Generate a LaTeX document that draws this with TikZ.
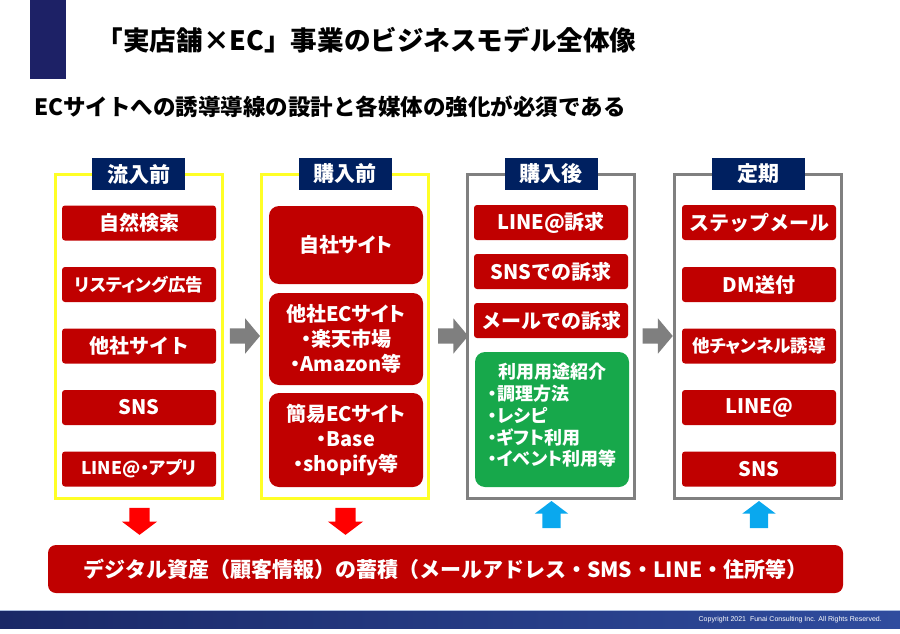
\documentclass[tikz,border=0pt]{standalone}
\usepackage{fontspec}
\setmainfont{Noto Sans CJK JP}
\newfontfamily\jpprop{Noto Sans CJK JP}[RawFeature=+palt]
\newfontfamily\copyfont{Liberation Sans}
\usepackage{tikz}
\usetikzlibrary{positioning,calc,shapes.arrows}
\definecolor{colBoxRed}{HTML}{C00000}
\definecolor{colHeaderNavy}{HTML}{002060}
\definecolor{colTopBar}{HTML}{1D2166}
\definecolor{colFrameYellow}{HTML}{FFFF26}
\definecolor{colFrameGray}{HTML}{808080}
\definecolor{colArrowGray}{HTML}{7F7F7F}
\definecolor{colArrowRed}{HTML}{FF0000}
\definecolor{colArrowBlue}{HTML}{0AA8EE}
\definecolor{colUseGreen}{HTML}{17A84B}
\definecolor{colFootDark}{HTML}{1A2866}
\definecolor{colFootLight}{HTML}{2F4C9E}
\definecolor{colFootLine}{HTML}{A9BCDF}

\begin{document}
\begin{tikzpicture}[x=1pt, y=-1pt,
        box/.style={rounded corners=3pt, align=center, text=white, inner sep=0pt, font=\bfseries\fontsize{20}{25}\selectfont},
        item/.style={box, fill=colBoxRed, minimum width=154pt, minimum height=35pt},
        small/.style={font=\jpprop\bfseries\fontsize{17.5}{17.5}\selectfont},
        tall/.style={item, rounded corners=10pt, font=\jpprop\bfseries\fontsize{20}{25}\selectfont},
        stage/.style={fill=colHeaderNavy, text=white, minimum width=93pt, minimum height=32pt, inner sep=0pt, font=\bfseries\fontsize{21}{21}\selectfont},
        frameY/.style={draw=colFrameYellow, line width=3pt, minimum width=167pt, minimum height=324pt, inner sep=0pt, outer sep=0pt},
        frameG/.style={frameY, draw=colFrameGray},
        nextarr/.style={single arrow, fill=colArrowGray, minimum height=30pt, inner xsep=0pt, inner ysep=7.5pt, single arrow head extend=10pt, single arrow tip angle=100},
        downarr/.style={single arrow, rotate=-90, fill=colArrowRed, minimum height=27pt, inner xsep=0pt, inner ysep=10pt, single arrow head extend=7.5pt, single arrow tip angle=106},
        uparr/.style={downarr, rotate=180, fill=colArrowBlue, inner ysep=9pt}
    ]
    \useasboundingbox (0,0) rectangle (900,634);

    % タイトル
    \fill[colTopBar] (30,0) rectangle (66,79);
    \node[anchor=west, inner sep=0pt, font=\bfseries\fontsize{26.6}{26.6}\selectfont] (title) at (96.5,40) {「実店舗×EC」事業のビジネスモデル全体像};
    \node[anchor=west, inner sep=0pt, font=\bfseries\fontsize{22.5}{22.5}\selectfont] (lead) at (34,107) {ECサイトへの誘導導線の設計と各媒体の強化が必須である};

    % 枠
    \node[frameY] (f1) at (138.5,336) {};
    \node[frameY] (f2) at (345,336) {};
    \node[frameG] (f3) at (551,336) {};
    \node[frameG] (f4) at (758,336) {};

    % 見出し
    \node[stage] (h1) at (f1.north) {流入前};
    \node[stage] (h2) at (f2.north) {購入前};
    \node[stage] (h3) at (f3.north) {購入後};
    \node[stage] (h4) at (f4.north) {定期};

    % 流入前
    \node[item] (a1) at (139,223) {自然検索};
    \node[item, small] (a2) at (139,284.5) {リスティング広告};
    \node[item] (a3) at (139,346) {他社サイト};
    \node[item] (a4) at (139,407.5) {SNS};
    \node[item, small] (a5) at (139,469) {LINE@・アプリ};

    % 購入前
    \node[tall, minimum height=78pt] (b1) at (346,245) {自社サイト};
    \node[tall, minimum height=92pt] (b2) at (346,339) {他社ECサイト\\・楽天市場\\・Amazon等};
    \node[tall, minimum height=94pt] (b3) at (346,440) {簡易ECサイト\\・Base\\・shopify等};

    % 購入後
    \node[item] (c1) at (551,222.5) {LINE@訴求};
    \node[item] (c2) at (551,271.5) {SNSでの訴求};
    \node[item] (c3) at (551,320.5) {メールでの訴求};
    \node[box, fill=colUseGreen, rounded corners=10pt, minimum width=154pt, minimum height=135pt] (c4) at (552,419.5) {};
    \node[box, text width=128pt, align=left, font=\jpprop\bfseries\fontsize{18}{21.8}\selectfont] (c4txt) at ([yshift=4pt]c4.center)
          {\makebox[\linewidth]{利用用途紹介}\\・調理方法\\・レシピ\\・ギフト利用\\・イベント利用等};

    % 定期
    \node[item] (d1) at (759,222.5) {ステップメール};
    \node[item] (d2) at (759,284.5) {DM送付};
    \node[item, small] (d3) at (759,346) {他チャンネル誘導};
    \node[item] (d4) at (759,407.5) {LINE@};
    \node[item] (d5) at (759,469) {SNS};

    % 段階の矢印
    \node[nextarr] (n12) at ($(f1.east)!0.5!(f2.west)$) {};
    \node[nextarr] (n23) at ($(f2.east)!0.55!(f3.west)$) {};
    \node[nextarr] (n34) at ($(f3.east)!0.5!(f4.west)$) {};

    % 蓄積への矢印
    \node[downarr] (r1) at (139.5,517.5) {};
    \node[downarr] (r2) at (345.5,517.5) {};
    \node[uparr] (u3) at (551.5,518) {};
    \node[uparr] (u4) at (759,518) {};

    % デジタル資産
    \node[box, fill=colBoxRed, rounded corners=8pt, minimum width=795pt, minimum height=48pt,
          font=\bfseries\fontsize{21}{21}\selectfont] (store) at (445.5,569)
          {デジタル資産（顧客情報）の蓄積（メールアドレス・SMS・LINE・住所等）};

    % フッター
    \shade[left color=colFootDark, right color=colFootLight] (0,611) rectangle (900,628);
    \draw[colFootLine, line width=0.8pt] (0,610.6) -- (900,610.6);
    \node[anchor=east, inner sep=0pt, text=white, font=\copyfont\fontsize{7}{7}\selectfont] (copy) at (882,619.5)
          {Copyright 2021\ \ Funai Consulting Inc. All Rights Reserved.};
\end{tikzpicture}
\end{document}
